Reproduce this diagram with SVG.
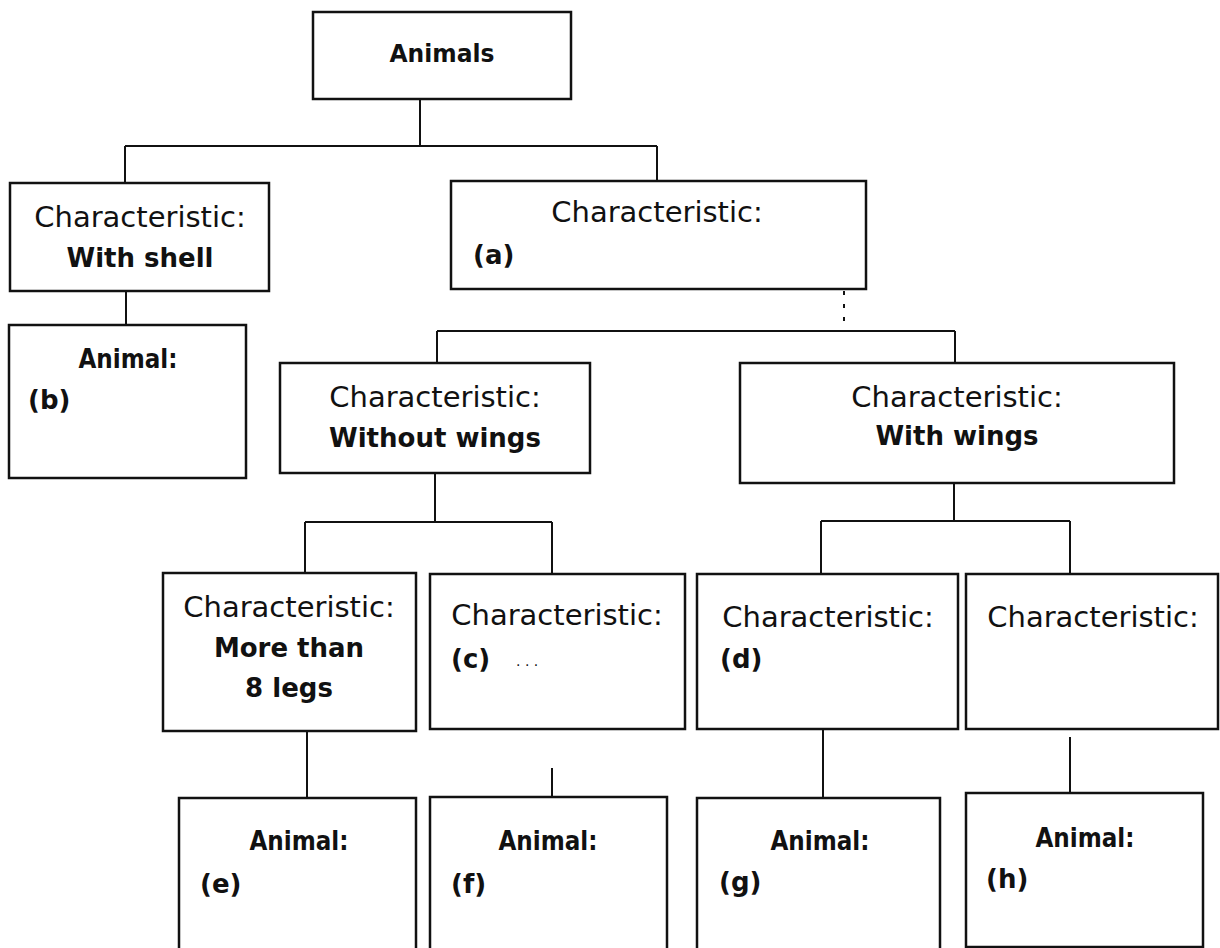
<svg xmlns="http://www.w3.org/2000/svg" width="1220" height="948" viewBox="0 0 1220 948">
<style>
.box{fill:#fff;stroke:#111;stroke-width:2.5}
.ln{fill:none;stroke:#111;stroke-width:2}
.dash{fill:none;stroke:#111;stroke-width:2;stroke-dasharray:4 9}
text{font-family:"DejaVu Sans","Liberation Sans",sans-serif;fill:#111}
.ch{font-size:29px;text-anchor:middle}
.lb{font-size:26px;font-weight:bold;text-anchor:middle}
.an{font-size:26px;font-weight:bold;text-anchor:middle}
.let{font-size:26px;font-weight:bold}
</style>
<rect width="1220" height="948" fill="#fff"/>
<g id="connectors">
<path class="ln" d="M420,99 V146 M125,146 H657 M125,146 V183 M657,146 V181"/>
<path class="ln" d="M126,291 V325"/>
<path class="dash" d="M844,291 V331"/>
<path class="ln" d="M437,331 H955 M437,331 V363 M955,331 V363"/>
<path class="ln" d="M435,473 V522 M305,522 H552 M305,522 V573 M552,522 V574"/>
<path class="ln" d="M954,483 V521 M821,521 H1070 M821,521 V574 M1070,521 V574"/>
<path class="ln" d="M307,731 V798 M552,768 V797 M823,729 V798 M1070,737 V793"/>
</g>
<g id="animals">
<rect class="box" x="313" y="12" width="258" height="87"/>
<text x="442" y="62" font-size="25" font-weight="bold" text-anchor="middle" textLength="105" lengthAdjust="spacingAndGlyphs">Animals</text>
</g>
<g id="with-shell">
<rect class="box" x="10" y="183" width="259" height="108"/>
<text class="ch" x="140" y="227">Characteristic:</text>
<text class="lb" x="140" y="267">With shell</text>
</g>
<g id="char-a">
<rect class="box" x="451" y="181" width="415" height="108"/>
<text class="ch" x="657" y="222">Characteristic:</text>
<text class="let" x="473" y="264">(a)</text>
</g>
<g id="animal-b">
<rect class="box" x="9" y="325" width="237" height="153"/>
<text class="an" x="128" y="368" textLength="99" lengthAdjust="spacingAndGlyphs">Animal:</text>
<text class="let" x="28" y="409">(b)</text>
</g>
<g id="without-wings">
<rect class="box" x="280" y="363" width="310" height="110"/>
<text class="ch" x="435" y="407">Characteristic:</text>
<text class="lb" x="435" y="447">Without wings</text>
</g>
<g id="with-wings">
<rect class="box" x="740" y="363" width="434" height="120"/>
<text class="ch" x="957" y="407">Characteristic:</text>
<text class="lb" x="957" y="445">With wings</text>
</g>
<g id="more-than-8-legs">
<rect class="box" x="163" y="573" width="253" height="158"/>
<text class="ch" x="289" y="617">Characteristic:</text>
<text class="lb" x="289" y="657">More than</text>
<text class="lb" x="289" y="697">8 legs</text>
</g>
<g id="char-c">
<rect class="box" x="430" y="574" width="255" height="155"/>
<text class="ch" x="557" y="625">Characteristic:</text>
<text class="let" x="451" y="668">(c)</text>
<text x="516" y="666" font-size="14">. . .</text>
</g>
<g id="char-d">
<rect class="box" x="697" y="574" width="261" height="155"/>
<text class="ch" x="828" y="627">Characteristic:</text>
<text class="let" x="720" y="668">(d)</text>
</g>
<g id="char-blank">
<rect class="box" x="966" y="574" width="252" height="155"/>
<text class="ch" x="1093" y="627">Characteristic:</text>
</g>
<g id="animal-e">
<rect class="box" x="179" y="798" width="237" height="170"/>
<text class="an" x="299" y="850" textLength="99" lengthAdjust="spacingAndGlyphs">Animal:</text>
<text class="let" x="200" y="893">(e)</text>
</g>
<g id="animal-f">
<rect class="box" x="430" y="797" width="237" height="170"/>
<text class="an" x="548" y="850" textLength="99" lengthAdjust="spacingAndGlyphs">Animal:</text>
<text class="let" x="451" y="893">(f)</text>
</g>
<g id="animal-g">
<rect class="box" x="697" y="798" width="243" height="170"/>
<text class="an" x="820" y="850" textLength="99" lengthAdjust="spacingAndGlyphs">Animal:</text>
<text class="let" x="719" y="891">(g)</text>
</g>
<g id="animal-h">
<rect class="box" x="966" y="793" width="237" height="154"/>
<text class="an" x="1085" y="847" textLength="99" lengthAdjust="spacingAndGlyphs">Animal:</text>
<text class="let" x="986" y="888">(h)</text>
</g>
</svg>
